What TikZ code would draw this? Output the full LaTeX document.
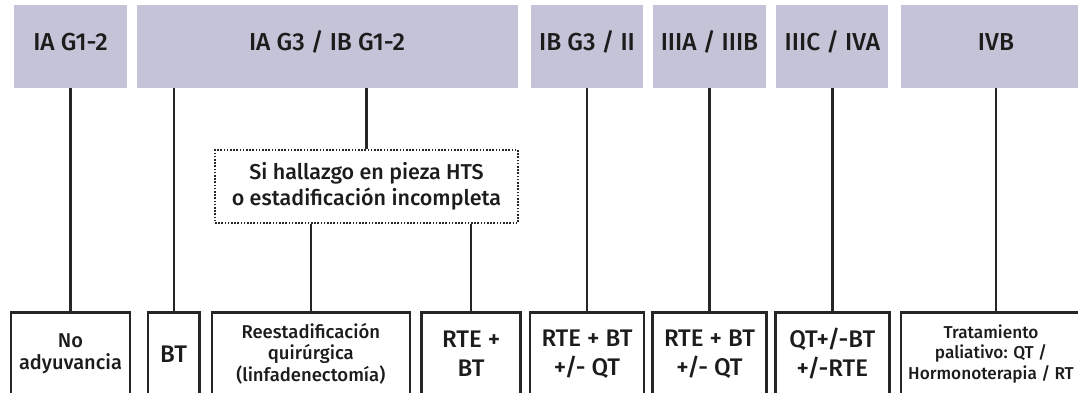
\documentclass[tikz,border=0pt]{standalone}
\usepackage{fontspec}
\setmainfont{Fira Sans Medium}
\usetikzlibrary{positioning}
\definecolor{stagefill}{HTML}{C4C3D7}
\definecolor{linegray}{HTML}{262626}
\definecolor{inkgray}{HTML}{1C1C1C}

\begin{document}
\begin{tikzpicture}[x=1pt,y=-1pt,
  stage/.style={text=inkgray,font=\fontsize{24.5}{28}\selectfont,text height=12pt,text depth=5pt,fill=stagefill,minimum height=83pt,inner sep=0pt},
  treat/.style={draw=linegray,line width=2.6pt,minimum height=82.5pt,inner sep=0pt,align=center,text=inkgray,font=\fontsize{24}{29}\selectfont},
  small/.style={font=\fontsize{18.5}{21.5}\selectfont},
  query/.style={draw=linegray,line width=1.6pt,dash pattern=on 1.6pt off 1.6pt,minimum width=303pt,minimum height=73pt,inner sep=0pt,align=center,text=inkgray,font=\fontsize{21.5}{26}\selectfont},
  link/.style={draw=linegray,line width=2.2pt}]
\useasboundingbox (0,0) rectangle (1078,392);

\node[stage,minimum width=113pt] (ia12) at (70.5,46.5) {IA G1-2};
\node[stage,minimum width=381pt] (iag3) at (327,46.5) {IA G3 / IB G1-2};
\node[stage,minimum width=112pt] (ib3) at (587,46.5) {IB G3 / II};
\node[stage,minimum width=113pt] (iiia) at (709.5,46.5) {IIIA / IIIB};
\node[stage,minimum width=112pt] (iiic) at (832.4,46.5) {IIIC / IVA};
\node[stage,minimum width=190pt] (ivb) at (996,46.5) {IVB};

\node[query] (hts) at (366.5,186.5) {Si hallazgo en pieza HTS\\o estadificación incompleta};

\node[treat,small,font=\fontsize{20}{22.5}\selectfont,minimum width=119pt] (noady) at (70.5,353.75) {No\\adyuvancia};
\node[treat,minimum width=51.4pt] (bt) at (173.7,353.75) {BT};
\node[treat,small,minimum width=198pt] (rees) at (310.8,353.75) {Reestadificación\\quirúrgica\\(linfadenectomía)};
\node[treat,minimum width=99pt] (rtebt) at (471.2,353.75) {RTE +\\BT};
\node[treat,minimum width=114pt] (rbq1) at (587,353.75) {RTE + BT\\+/- QT};
\node[treat,minimum width=113.6pt] (rbq2) at (709.5,353.75) {RTE + BT\\+/- QT};
\node[treat,minimum width=113.6pt] (qbr) at (832.4,353.75) {QT+/-BT\\+/-RTE};
\node[treat,small,font=\fontsize{17.2}{20.5}\selectfont,minimum width=180pt] (palia) at (991,353.75) {Tratamiento\\paliativo: QT /\\Hormonoterapia / RT};

\foreach \a/\b in {ia12/noady,ib3/rbq1,iiia/rbq2,iiic/qbr}
  \draw[link] (\a.south) -- (\b.north);
\draw[link] (ivb.south) -- (ivb.south |- palia.north);
\draw[link] (iag3.south -| bt.north) -- (bt.north);
\draw[link] (iag3.south -| hts.north) -- (hts.north);
\draw[link] (hts.south -| rees.north) -- (rees.north);
\draw[link] (hts.south -| rtebt.north) -- (rtebt.north);
\end{tikzpicture}
\end{document}
